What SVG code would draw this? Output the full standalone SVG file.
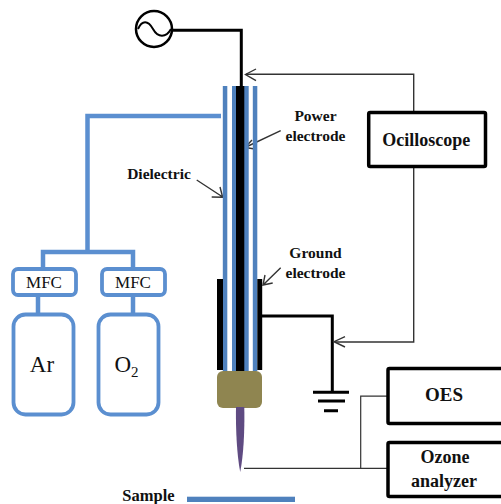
<svg xmlns="http://www.w3.org/2000/svg" width="501" height="504" viewBox="0 0 501 504">
<style>
text{font-family:"Liberation Serif",serif;fill:#111;text-anchor:middle}
.b{font-weight:bold}
.blue{fill:#4f81bd}
.bl{fill:none;stroke:#5b8fd0;stroke-width:4.5}
.k{fill:none;stroke:#000;stroke-width:3}
.box{fill:#fff;stroke:#000;stroke-width:3.5}
.thin{fill:none;stroke:#333;stroke-width:1.2}
.arrow{fill:none;stroke:#333;stroke-width:1.4}
.mfc,.tank{fill:#fff;stroke:#5b8fd0;stroke-width:3.8}
</style>
<g id="connectors">
<path class="k" d="M172 30.300H241.300V87"/>
<path class="bl" d="M221 116H87.500V251"/>
<path class="bl" d="M43 270V252H133V270"/>
<path class="bl" d="M38 296V316M133 296V316"/>
<path class="k" d="M262 316H332.300V392"/>
<path class="k" d="M313 392.300H349M318 401H345M324 410.700H338"/>
<path class="arrow" d="M246 74.300H413.700V112M413.700 166V342H335"/>
<path d="M256 69L245.500 74.500L256 80.700" class="arrow"/>
<path d="M345 336.700L334 341.700L345 347" class="arrow"/>
<path class="thin" d="M244 468.400H388M360.700 468.400V396.200H388"/>
<path class="arrow" d="M280.700 130.700L245 147.500M252 140L245 147.500L255 149M196.700 180L222.700 197M211.700 197L222.700 197.300L220 187M280.700 267.700L263 285M272.700 283L263 285L265 275"/>
</g>
<g id="source">
<circle cx="154" cy="29" r="18" fill="#fff" stroke="#000" stroke-width="2.500"/>
<path d="M138 29C142 20 148 20 153 29S166 38 171 29" fill="none" stroke="#000" stroke-width="2"/>
</g>
<g id="jet">
<rect class="blue" x="222.800" y="86" width="4.500" height="285"/>
<rect class="blue" x="232" y="86" width="4.500" height="285"/>
<rect class="blue" x="244" y="86" width="4.700" height="285"/>
<rect class="blue" x="252.800" y="86" width="4.500" height="285"/>
<rect x="236" y="86" width="8.300" height="285" fill="#000"/>
</g>
<g id="ground-electrode">
<rect x="217" y="279" width="6" height="91"/>
<rect x="257.300" y="279" width="4.900" height="91"/>
</g>
<g id="nozzle">
<rect x="217" y="371" width="45" height="37" rx="6" fill="#8f8550"/>
</g>
<g id="plasma">
<path d="M236 407H244.300C244.800 430 243.500 456 240.200 472C237 456 235.600 430 236 407Z" fill="#5f4b82"/>
</g>
<g id="sample">
<rect x="187" y="496.700" width="108" height="5.300" fill="#4f81bd"/>
<text class="b" x="148.500" y="500.500" font-size="16.500">Sample</text>
</g>
<g id="mfc-ar"><rect class="mfc" x="13" y="269" width="63" height="26" rx="5"/><text x="44" y="287.500" font-size="17">MFC</text></g>
<g id="mfc-o2"><rect class="mfc" x="102" y="269" width="63" height="26" rx="5"/><text x="133" y="287.500" font-size="17">MFC</text></g>
<g id="tank-ar"><rect class="tank" x="13.500" y="314.500" width="60" height="100" rx="12"/><text x="42" y="372" font-size="23">Ar</text></g>
<g id="tank-o2"><rect class="tank" x="98.500" y="314.500" width="60" height="100" rx="12"/><text x="126.500" y="372" font-size="23">O<tspan font-size="15" dy="5">2</tspan></text></g>
<g id="oscilloscope"><rect class="box" x="368.700" y="112.500" width="116.800" height="54" rx="1.500"/><text class="b" x="426.300" y="146" font-size="18">Ocilloscope</text></g>
<g id="oes"><rect class="box" x="388" y="368.500" width="115" height="55" rx="1.500"/><text class="b" x="444" y="401" font-size="19">OES</text></g>
<g id="ozone"><rect class="box" x="388" y="442.500" width="115" height="54" rx="1.500"/><text class="b" x="445" y="463" font-size="18">Ozone</text><text class="b" x="444" y="487" font-size="18">analyzer</text></g>
<g id="labels">
<text class="b" x="315.500" y="121" font-size="15.500">Power</text>
<text class="b" x="315.500" y="141" font-size="15.500">electrode</text>
<text class="b" x="159" y="179" font-size="15.500">Dielectric</text>
<text class="b" x="315.500" y="258" font-size="15.500">Ground</text>
<text class="b" x="315.500" y="278" font-size="15.500">electrode</text>
</g>
</svg>
